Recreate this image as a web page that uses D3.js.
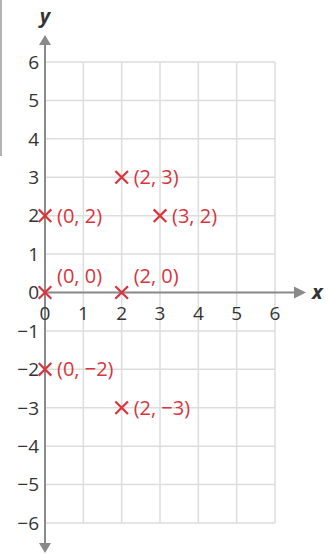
<!DOCTYPE html>
<html><head><meta charset="utf-8">
<script src="https://cdn.jsdelivr.net/npm/d3@7"></script>
<style>body{margin:0;background:#fff}svg{display:block}</style>
</head><body>
<script>
const xTicks = [0,1,2,3,4,5,6];
const yTicks = [-6,-5,-4,-3,-2,-1,0,1,2,3,4,5,6];
const pointX = [0,2,3,0,2,0,2];
const pointY = [2,3,2,0,0,-2,-3];
const pointLabels = ["(0, 2)","(2, 3)","(3, 2)","(0, 0)","(2, 0)","(0, −2)","(2, −3)"];
const labelPlace = ["right","right","right","above","above","right","right"];

const W=334,H=554;
const svg=d3.select("body").append("svg").attr("width",W).attr("height",H);
const x=d3.scaleLinear().domain([0,6]).range([45,275]);
const y=d3.scaleLinear().domain([-6,6]).range([523,62]);
const fmt = v => v<0 ? "−"+Math.abs(v) : String(v);

// stray left border line
svg.append("line").attr("x1",1).attr("x2",1).attr("y1",0).attr("y2",156).attr("stroke","#999").attr("stroke-width",1.5);

// grid
const g=svg.append("g");
g.selectAll(".vx").data(xTicks).join("line").attr("x1",d=>x(d)).attr("x2",d=>x(d)).attr("y1",y(6)).attr("y2",y(-6)).attr("stroke","#ddd").attr("stroke-width",1.5);
g.selectAll(".hy").data(yTicks).join("line").attr("y1",d=>y(d)).attr("y2",d=>y(d)).attr("x1",x(0)).attr("x2",x(6)).attr("stroke","#ddd").attr("stroke-width",1.5);

// axes
const ax="#8a8a8a";
svg.append("line").attr("x1",x(0)).attr("x2",x(0)).attr("y1",42).attr("y2",546).attr("stroke",ax).attr("stroke-width",2);
svg.append("line").attr("x1",x(0)).attr("x2",298).attr("y1",y(0)).attr("y2",y(0)).attr("stroke",ax).attr("stroke-width",2);
const x0=x(0), y0=y(0);
svg.append("path").attr("d",`M${x0},35 L${x0-6},45 L${x0+6},45 Z`).attr("fill",ax);
svg.append("path").attr("d",`M${x0},553 L${x0-6},543 L${x0+6},543 Z`).attr("fill",ax);
svg.append("path").attr("d",`M306,${y0} L294,${y0-6} L294,${y0+6} Z`).attr("fill",ax);

const font="'Open Sans', 'Noto Sans', sans-serif";
svg.append("text").attr("x",45).attr("y",23).attr("text-anchor","middle").attr("font-family",font).attr("font-size",20).attr("font-weight","bold").attr("font-style","italic").attr("fill","#333").text("y");
svg.append("text").attr("x",312).attr("y",y0+6).attr("font-family",font).attr("font-size",20).attr("font-weight","bold").attr("font-style","italic").attr("fill","#333").text("x");

// tick labels
svg.selectAll(".yt").data(yTicks).join("text").attr("x",39).attr("y",d=>y(d)+6.8).attr("text-anchor","end").attr("font-family",font).attr("font-size",19).attr("fill","#333").text(d=>fmt(d));
svg.selectAll(".xt").data(xTicks).join("text").attr("x",d=>x(d)).attr("y",y0+27).attr("text-anchor","middle").attr("font-family",font).attr("font-size",19).attr("fill","#333").text(d=>fmt(d));

// points
const red="#d9343c";
const pts=pointX.map((v,i)=>({x:v,y:pointY[i],label:pointLabels[i],place:labelPlace[i]}));
const s=6.3;
const pg=svg.selectAll(".pt").data(pts).join("g").attr("transform",d=>`translate(${x(d.x)},${y(d.y)})`);
pg.append("path").attr("d",`M${-s},${-s}L${s},${s}M${-s},${s}L${s},${-s}`).attr("stroke",red).attr("stroke-width",2.2).attr("fill","none");
pg.append("text").attr("x",12).attr("y",d=>d.place==="right"?7:-9.5).attr("font-family",font).attr("font-size",20).attr("fill",red).text(d=>d.label);
</script>
</body></html>
